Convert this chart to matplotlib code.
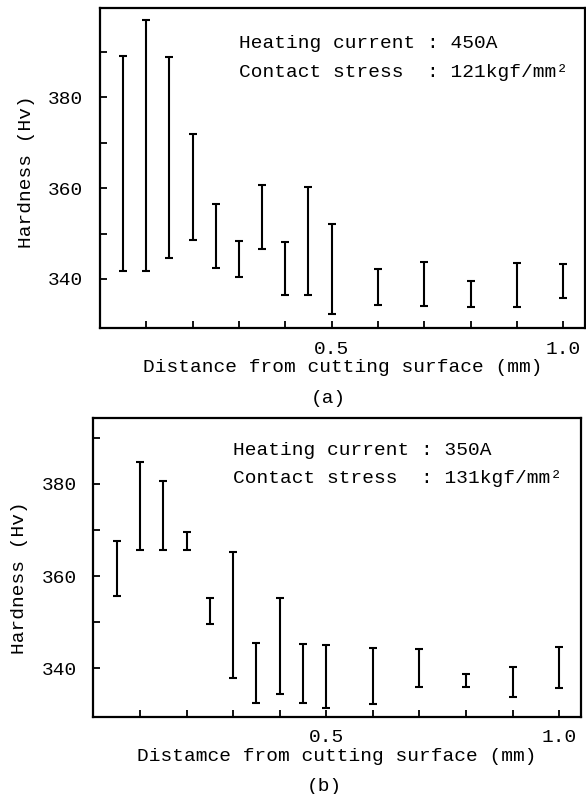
import numpy as np
import matplotlib
matplotlib.use("Agg")
import matplotlib.pyplot as plt

plt.rcParams["font.family"] = ["Liberation Mono", "DejaVu Sans Mono"]

# distance from cutting surface (mm)
distance = [0.05, 0.1, 0.15, 0.2, 0.25, 0.3, 0.35, 0.4, 0.45, 0.5,
            0.6, 0.7, 0.8, 0.9, 1.0]

# (a) heating current 450A - hardness range (Hv)
a_low = [341.8, 341.8, 344.6, 348.6, 342.5, 340.4, 346.5, 336.5, 336.5, 332.3,
         334.2, 334.1, 333.8, 333.8, 335.7]
a_high = [389.1, 397.0, 389.0, 371.9, 356.5, 348.4, 360.6, 348.2, 360.3, 352.1,
          342.1, 343.7, 339.6, 343.5, 343.3]

# (b) heating current 350A - hardness range (Hv)
b_low = [355.7, 365.7, 365.7, 365.6, 349.6, 337.8, 332.5, 334.4, 332.4, 331.3,
         332.2, 336.0, 335.9, 333.8, 335.7]
b_high = [367.5, 384.7, 380.7, 369.5, 355.2, 365.3, 345.4, 355.2, 345.2, 345.1,
          344.3, 344.2, 338.8, 340.2, 344.6]

x_ticks = [0.1, 0.2, 0.3, 0.4, 0.5, 0.6, 0.7, 0.8, 0.9, 1.0]
x_ticklabels = ["", "", "", "", "0.5", "", "", "", "", "1.0"]
y_ticks = [340, 350, 360, 370, 380, 390]
y_ticklabels = ["340", "", "360", "", "380", ""]

fs = 14

fig = plt.figure(figsize=(5.86, 7.94), dpi=100)

panels = [
    dict(rect=[0.1706, 0.5869, 0.8276, 0.403], low=a_low, high=a_high,
         ylim=(329.2, 399.7), current="450A", stress="121kgf/mm²",
         xlabel="Distance from cutting surface (mm)", tag="(a)",
         tag_x=0.561, tag_y=0.4975, ylab_y=0.4875),
    dict(rect=[0.1594, 0.0974, 0.832, 0.3762], low=b_low, high=b_high,
         ylim=(329.5, 394.3), current="350A", stress="131kgf/mm²",
         xlabel="Distamce from cutting surface (mm)", tag="(b)",
         tag_x=0.553, tag_y=0.0095, ylab_y=0.465),
]

for p in panels:
    ax = fig.add_axes(p["rect"])
    low = np.array(p["low"])
    high = np.array(p["high"])
    mid = (low + high) / 2
    err = (high - low) / 2
    ax.errorbar(distance, mid, yerr=err, fmt="none", ecolor="black",
                elinewidth=1.5, capsize=3, capthick=1.5)

    ax.set_xlim(0, 1.047)
    ax.set_ylim(*p["ylim"])
    ax.set_xticks(x_ticks)
    ax.set_xticklabels(x_ticklabels)
    ax.set_yticks(y_ticks)
    ax.set_yticklabels(y_ticklabels)
    ax.tick_params(direction="in", length=5, width=1.3, labelsize=fs,
                   colors="black")
    ax.tick_params(axis="x", pad=9)
    ax.tick_params(axis="y", pad=12)
    for s in ax.spines.values():
        s.set_linewidth(1.6)

    ax.set_xlabel(p["xlabel"], fontsize=fs, labelpad=1)
    ax.set_ylabel("Hardness (Hv)", fontsize=fs)
    ax.yaxis.set_label_coords(-0.135, p["ylab_y"])

    ax.text(0.287, 0.89, "Heating current : " + p["current"],
            transform=ax.transAxes, fontsize=fs, va="center", ha="left")
    ax.text(0.287, 0.797, "Contact stress  : " + p["stress"],
            transform=ax.transAxes, fontsize=fs, va="center", ha="left")

    fig.text(p["tag_x"], p["tag_y"], p["tag"], fontsize=fs, ha="center",
             va="center")

fig.savefig("out.png", dpi=100)
